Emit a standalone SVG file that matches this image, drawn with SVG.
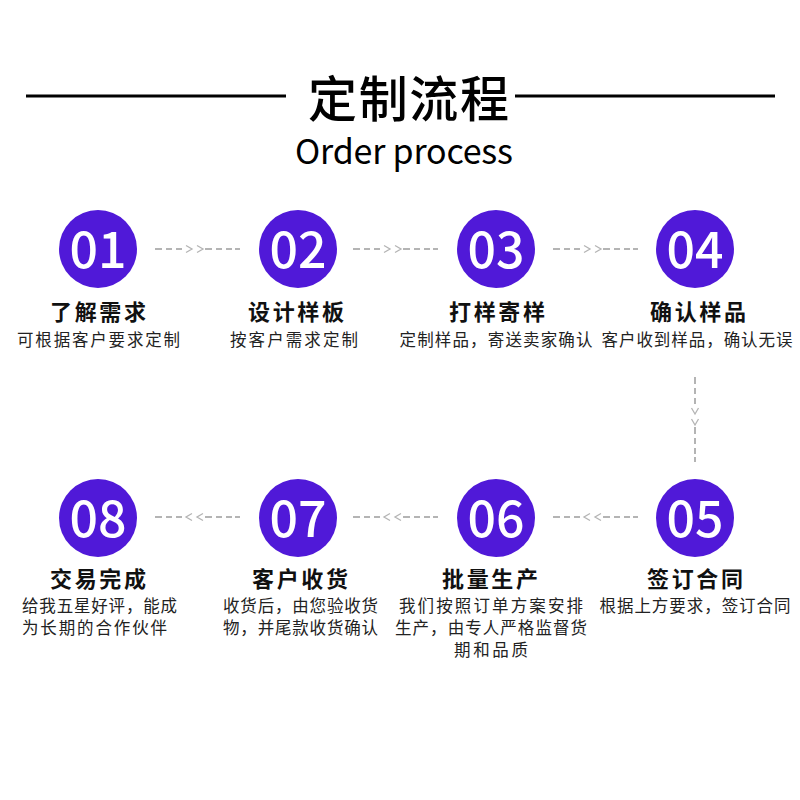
<svg xmlns="http://www.w3.org/2000/svg" xmlns:xlink="http://www.w3.org/1999/xlink" width="800" height="800" viewBox="0 0 800 800">
<style>
.bg{fill:#ffffff}
.rule{stroke:#000;stroke-width:3}
.title{font-family:"Noto Sans CJK SC","Noto Sans",sans-serif;font-size:49px;font-weight:500;fill:#000}
.sub{font-family:"Noto Sans CJK SC","Noto Sans",sans-serif;font-size:34px;fill:#000}
.circle{fill:#5019d8}
.num{font-family:"Noto Sans CJK SC","Noto Sans",sans-serif;font-size:50px;font-weight:500;fill:#fff;text-anchor:middle}
.label{font-family:"Noto Sans CJK SC",sans-serif;font-size:22px;font-weight:bold;fill:#111;text-anchor:middle}
.desc{font-family:"Noto Sans CJK SC",sans-serif;font-size:16.5px;fill:#222}
.mid{text-anchor:middle}
.dash{fill:none;stroke:#b4b4b4;stroke-width:2}
.chev{fill:none;stroke:#b4b4b4;stroke-width:1.3}
</style>
<defs>
<g id="arrR">
<path class="dash" d="M0 0h7M11 0h6M21 0h6M50 0h7M61 0h6M71 0h6M80 0h5"/>
<path class="chev" d="M31 -3.5l6 3.5l-6 3.5M42 -3.5l6 3.5l-6 3.5"/>
</g>
<g id="arrL">
<path class="dash" d="M0 0h7M11 0h6M21 0h6M50 0h7M61 0h6M71 0h6M80 0h5"/>
<path class="chev" d="M37 -3.5l-6 3.5l6 3.5M48 -3.5l-6 3.5l6 3.5"/>
</g>
</defs>
<rect class="bg" x="0" y="0" width="800" height="800"/>
<g id="header">
<line class="rule" x1="26" y1="96" x2="286" y2="96"/>
<line class="rule" x1="515" y1="96" x2="775" y2="96"/>
<text class="title" x="308" y="117" textLength="201" lengthAdjust="spacing">定制流程</text>
<text class="sub" x="295" y="164" textLength="218" lengthAdjust="spacing">Order process</text>
</g>
<g id="connectors">
<use xlink:href="#arrR" href="#arrR" transform="translate(155 249)"/>
<use xlink:href="#arrR" href="#arrR" transform="translate(353 249)"/>
<use xlink:href="#arrR" href="#arrR" transform="translate(553 249)"/>
<use xlink:href="#arrR" href="#arrR" transform="translate(695 377) rotate(90)"/>
<use xlink:href="#arrL" href="#arrL" transform="translate(553 517)"/>
<use xlink:href="#arrL" href="#arrL" transform="translate(353 517)"/>
<use xlink:href="#arrL" href="#arrL" transform="translate(155 517)"/>
</g>
<g id="node01">
<circle class="circle" cx="98" cy="249" r="39"/>
<text class="num" x="98" y="268">01</text>
<text class="label" x="98" y="320" textLength="96" lengthAdjust="spacing">了解需求</text>
<text class="desc mid" x="98.5" y="346" textLength="163" lengthAdjust="spacing">可根据客户要求定制</text>
</g>
<g id="node02">
<circle class="circle" cx="298" cy="249" r="39"/>
<text class="num" x="298" y="268">02</text>
<text class="label" x="296" y="320" textLength="96" lengthAdjust="spacing">设计样板</text>
<text class="desc mid" x="294" y="346" textLength="128" lengthAdjust="spacing">按客户需求定制</text>
</g>
<g id="node03">
<circle class="circle" cx="496" cy="249" r="39"/>
<text class="num" x="496" y="268">03</text>
<text class="label" x="497" y="320" textLength="96" lengthAdjust="spacing">打样寄样</text>
<text class="desc mid" x="496" y="346" textLength="193" lengthAdjust="spacing">定制样品，寄送卖家确认</text>
</g>
<g id="node04">
<circle class="circle" cx="695" cy="249" r="39"/>
<text class="num" x="695" y="268">04</text>
<text class="label" x="698" y="320" textLength="96" lengthAdjust="spacing">确认样品</text>
<text class="desc mid" x="697" y="346" textLength="191" lengthAdjust="spacing">客户收到样品，确认无误</text>
</g>
<g id="node05">
<circle class="circle" cx="695" cy="518" r="39"/>
<text class="num" x="695" y="537">05</text>
<text class="label" x="695" y="587" textLength="96" lengthAdjust="spacing">签订合同</text>
<text class="desc mid" x="695" y="612" textLength="191" lengthAdjust="spacing">根据上方要求，签订合同</text>
</g>
<g id="node06">
<circle class="circle" cx="496" cy="518" r="39"/>
<text class="num" x="496" y="537">06</text>
<text class="label" x="490" y="587" textLength="96" lengthAdjust="spacing">批量生产</text>
<text class="desc mid" x="491" y="612" textLength="184" lengthAdjust="spacing">我们按照订单方案安排</text>
<text class="desc mid" x="491" y="634" textLength="192" lengthAdjust="spacing">生产，由专人严格监督货</text>
<text class="desc mid" x="491" y="656" textLength="74" lengthAdjust="spacing">期和品质</text>
</g>
<g id="node07">
<circle class="circle" cx="298" cy="518" r="39"/>
<text class="num" x="298" y="537">07</text>
<text class="label" x="300" y="587" textLength="96" lengthAdjust="spacing">客户收货</text>
<text class="desc" x="223" y="612" textLength="155" lengthAdjust="spacing">收货后，由您验收货</text>
<text class="desc" x="223" y="634" textLength="155" lengthAdjust="spacing">物，并尾款收货确认</text>
</g>
<g id="node08">
<circle class="circle" cx="98" cy="518" r="39"/>
<text class="num" x="98" y="537">08</text>
<text class="label" x="98" y="587" textLength="96" lengthAdjust="spacing">交易完成</text>
<text class="desc" x="22" y="612" textLength="155" lengthAdjust="spacing">给我五星好评，能成</text>
<text class="desc" x="22" y="634" textLength="145" lengthAdjust="spacing">为长期的合作伙伴</text>
</g>
</svg>
